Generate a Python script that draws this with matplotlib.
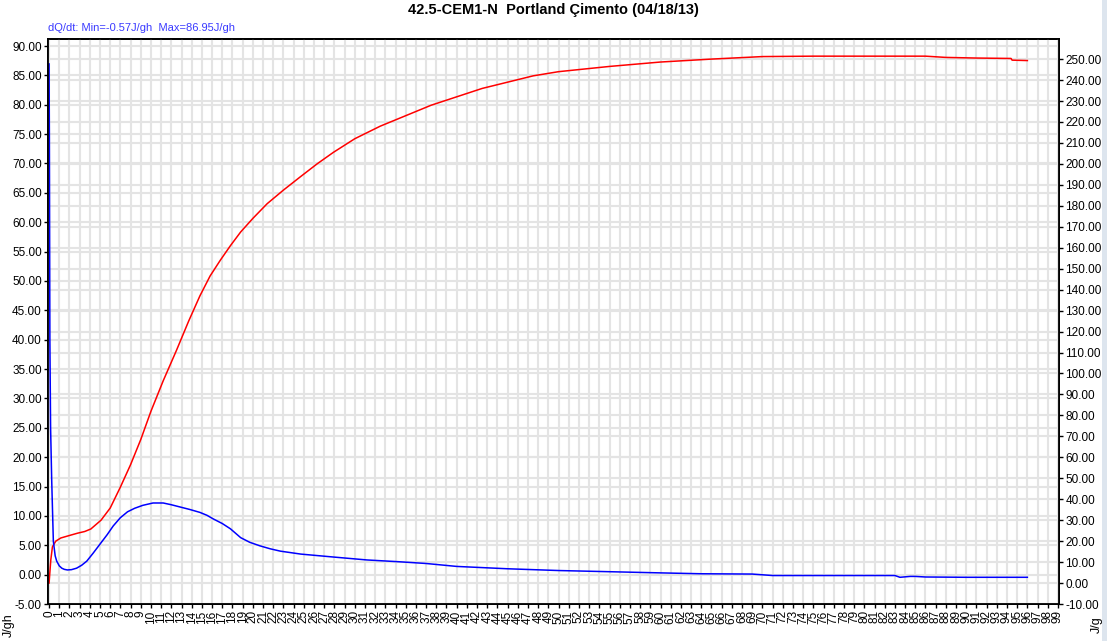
"""
Isothermal calorimetry plot: heat flow (dQ/dt) and cumulative heat
"""
import numpy as np
import matplotlib
matplotlib.use("Agg")
import matplotlib.pyplot as plt
from matplotlib.patches import Rectangle

FONT = ["Liberation Sans Narrow", "Liberation Sans", "DejaVu Sans"]
plt.rcParams["font.family"] = FONT

title = "42.5-CEM1-N  Portland Çimento (04/18/13)"
subtitle = "dQ/dt: Min=-0.57J/gh  Max=86.95J/gh"

# heat flow, J/gh (left axis)
flow_t = [0, 0.03, 0.08, 0.15, 0.26, 0.42, 0.6, 0.75, 1.0, 1.25, 1.5, 1.8,
          2.2, 2.7, 3.2, 3.7, 4.3, 5.0, 5.7, 6.3, 7.0, 7.7, 8.4, 9.2, 10.2,
          11.2, 12.0, 12.9, 13.8, 14.8, 15.5, 16.1, 17.0, 17.8, 18.8, 19.7,
          20.7, 21.7, 22.7, 24.7, 27.9, 31.2, 34.3, 37, 40, 45, 50, 55, 60,
          64, 69, 71, 75, 83, 83.5, 84.5, 85, 86, 90, 96]
flow = [86.95, 75, 40, 25, 16, 5.7, 3.2, 2.3, 1.5, 1.1, 0.9, 0.8,
        0.85, 1.1, 1.6, 2.3, 3.6, 5.2, 6.8, 8.3, 9.7, 10.7, 11.3, 11.8, 12.2,
        12.2, 11.9, 11.5, 11.1, 10.6, 10.1, 9.5, 8.7, 7.8, 6.3, 5.5,
        4.9, 4.4, 4.0, 3.5, 3.0, 2.5, 2.2, 1.9, 1.4, 1.0, 0.7, 0.5, 0.3,
        0.15, 0.1, -0.15, -0.15, -0.15, -0.45, -0.3, -0.3, -0.4, -0.45, -0.45]

# cumulative heat, J/g (right axis)
heat_t = [0, 0.17, 0.33, 0.66, 1.15, 2.0, 2.8, 3.5, 4.1, 5.1, 6.0, 7.0, 8.0,
          9.0, 10.0, 11.2, 12.5, 13.7, 14.8, 15.8, 16.8, 17.8, 18.8, 20.0,
          21.4, 23.0, 24.7, 26.3, 27.9, 30, 32.5, 35, 37.5, 40, 42.5, 45,
          47.5, 50, 55, 60, 65, 70, 75, 80, 86, 88, 91, 94.4, 94.5, 96]
heat = [0, 11, 17.3, 20, 21.5, 22.7, 23.8, 24.6, 25.8, 30, 35.8, 45.8, 56.5,
        68.5, 82, 96.5, 111, 125, 137, 146.5, 154, 161, 167.5, 174,
        181, 187.5, 194, 200, 205.5, 212, 218, 223, 228, 232, 236, 239,
        242, 244, 246.5, 248.6, 250, 251.2, 251.4, 251.4, 251.4, 250.8, 250.5,
        250.3, 249.5, 249.3]

hours = list(range(0, 100))
left_ticks = np.arange(-5, 91, 5)
right_ticks = np.arange(-10, 251, 10)

fig = plt.figure(figsize=(11.07, 6.41), dpi=100)
ax = fig.add_axes([0.0434, 0.0577, 0.9132, 0.8815])
ax2 = ax.twinx()
ax.set_zorder(2)
ax2.set_zorder(1)
ax.patch.set_visible(False)

grid_kw = dict(color="#e4e4e4", linewidth=1.5)
ax2.grid(True, axis="y", **grid_kw)
ax2.set_axisbelow(True)
ax.grid(True, axis="both", **grid_kw)
ax.set_axisbelow(True)

ax.plot(heat_t, heat, color="#ff0000", linewidth=1.1, transform=ax2.transData)
ax.plot(flow_t, flow, color="#0000ff", linewidth=1.1)

ax.set_xlim(-0.1, 99.1)
ax.set_ylim(-5, 91.2)
ax2.set_ylim(-10, 259.6)

ax.set_xticks(hours)
ax.set_xticklabels([str(h) for h in hours], rotation=90, fontsize=8.5)
ax.set_yticks(left_ticks)
ax.set_yticklabels([f"{v:.2f}" for v in left_ticks], fontsize=8.5)
ax2.set_yticks(right_ticks)
ax2.set_yticklabels([f"{v:.2f}" for v in right_ticks], fontsize=8.5)

for a in (ax, ax2):
    a.tick_params(length=3, width=1, pad=1.5)
    for s in a.spines.values():
        s.set_linewidth(1.3)
        s.set_color("black")

fig.text(0.5, 0.984, title, ha="center", va="center", fontsize=10.5,
         fontweight="bold")
fig.text(0.0434, 0.957, subtitle, ha="left", va="center", fontsize=8,
         color="#3a3aff")
fig.text(0.008, 0.025, "J/gh", rotation=90, ha="center", va="center",
         fontsize=9)
fig.text(0.991, 0.025, "J/g", rotation=90, ha="center", va="center",
         fontsize=9)

# window edge strip on the far right
fig.patches.append(Rectangle((0.9955, 0), 0.0045, 1, transform=fig.transFigure,
                             facecolor="#dde5ee", edgecolor="none"))

fig.savefig("out.png", dpi=100)
